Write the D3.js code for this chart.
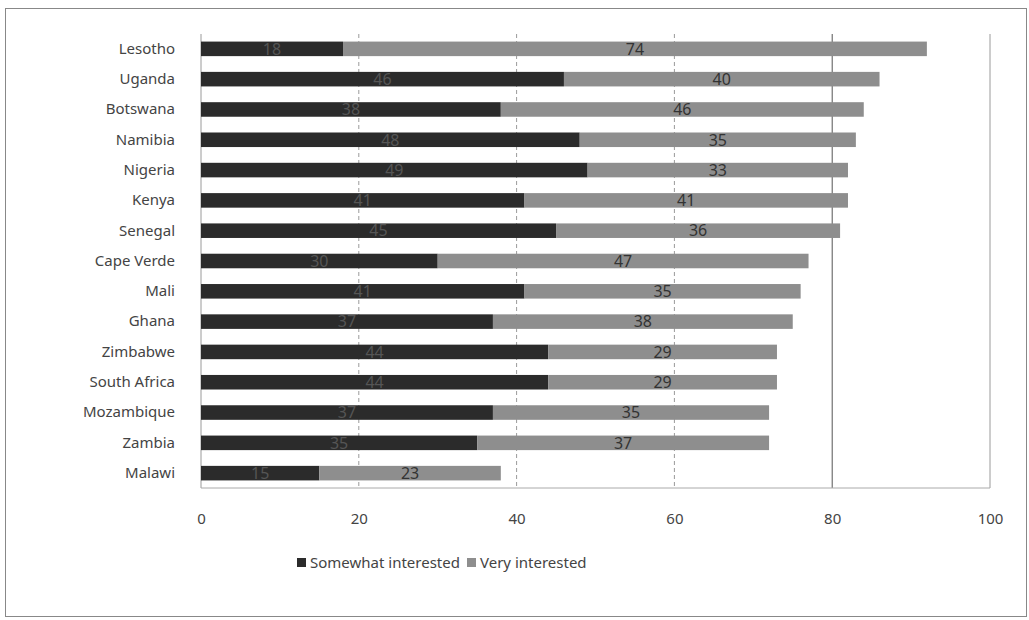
<!DOCTYPE html>
<html lang="en">
<head>
<meta charset="UTF-8">
<title>Interest by country</title>
<script src="https://d3js.org/d3.v7.min.js"></script>
<style>
  body { margin: 0; background: #fff; font-family: "Noto Sans", Arial, sans-serif; }
  svg text { fill: #333; }
</style>
</head>
<body>
<svg width="1029" height="620"></svg>
<script>
const countries = ["Lesotho", "Uganda", "Botswana", "Namibia", "Nigeria", "Kenya", "Senegal",
  "Cape Verde", "Mali", "Ghana", "Zimbabwe", "South Africa", "Mozambique", "Zambia", "Malawi"];
const somewhat = [18, 46, 38, 48, 49, 41, 45, 30, 41, 37, 44, 44, 37, 35, 15];
const very = [74, 40, 46, 35, 33, 41, 36, 47, 35, 38, 29, 29, 35, 37, 23];
const xTicks = [0, 20, 40, 60, 80, 100];
const seriesNames = ["Somewhat interested", "Very interested"];
const colors = ["#2b2b2b", "#8e8e8e"];
const labelColors = ["#555", "#333"];

const svg = d3.select("svg");
const margin = { top: 34, right: 39, bottom: 132, left: 201 };
const width = 1029 - margin.left - margin.right;
const height = 620 - margin.top - margin.bottom;

// outer frame
svg.append("rect")
  .attr("x", 5.5).attr("y", 8.5)
  .attr("width", 1021).attr("height", 608)
  .attr("fill", "none").attr("stroke", "#888").attr("stroke-width", 1);

const g = svg.append("g").attr("transform", `translate(${margin.left},${margin.top})`);

const x = d3.scaleLinear().domain([0, 100]).range([0, width]);
const y = d3.scaleBand().domain(countries).range([0, height]).paddingInner(0.52).paddingOuter(0.25);

// gridlines
g.selectAll(".grid").data(xTicks).enter().append("line")
  .attr("x1", d => x(d)).attr("x2", d => x(d))
  .attr("y1", 0).attr("y2", height)
  .attr("stroke", d => d === 80 ? "#555" : "#9a9a9a").attr("stroke-width", 1)
  .attr("stroke-dasharray", d => (d > 0 && d < 80) ? "4,3" : null);

// bottom axis line
g.append("line").attr("x1", 0).attr("x2", width).attr("y1", height).attr("y2", height)
  .attr("stroke", "#aaa");

const stacked = countries.map((c, i) => ({ country: c, vals: [somewhat[i], very[i]] }));

const rows = g.selectAll(".row").data(stacked).enter().append("g")
  .attr("transform", d => `translate(0,${y(d.country)})`);

rows.each(function(d) {
  let start = 0;
  d.vals.forEach((v, k) => {
    d3.select(this).append("rect")
      .attr("x", x(start)).attr("y", 0)
      .attr("width", x(start + v) - x(start)).attr("height", y.bandwidth())
      .attr("fill", colors[k]);
    d3.select(this).append("text")
      .attr("x", x(start + v / 2)).attr("y", y.bandwidth() / 2)
      .attr("dy", "0.36em").attr("text-anchor", "middle")
      .attr("font-size", 16).style("fill", labelColors[k])
      .text(v);
    start += v;
  });
});

// category labels
const yAxis = g.append("g").call(d3.axisLeft(y).tickSize(0).tickPadding(26));
yAxis.select(".domain").remove();
yAxis.selectAll("text").attr("font-size", 15).attr("font-family", "Noto Sans, sans-serif").style("fill", "#444");

// x labels
const xAxis = g.append("g").attr("transform", `translate(0,${height})`)
  .call(d3.axisBottom(x).tickValues(xTicks).tickSize(0).tickPadding(25));
xAxis.select(".domain").remove();
xAxis.selectAll("text").attr("font-size", 15).attr("font-family", "Noto Sans, sans-serif").style("fill", "#444");

// legend
const legend = svg.append("g").attr("transform", "translate(297,563)");
const legendX = [0, 170];
seriesNames.forEach((n, k) => {
  legend.append("rect").attr("x", legendX[k]).attr("y", -5).attr("width", 9).attr("height", 9).attr("fill", colors[k]);
  legend.append("text").attr("x", legendX[k] + 13).attr("y", 0).attr("dy", "0.35em")
    .attr("font-size", 15).style("fill", "#444").text(n);
});
</script>
</body>
</html>
